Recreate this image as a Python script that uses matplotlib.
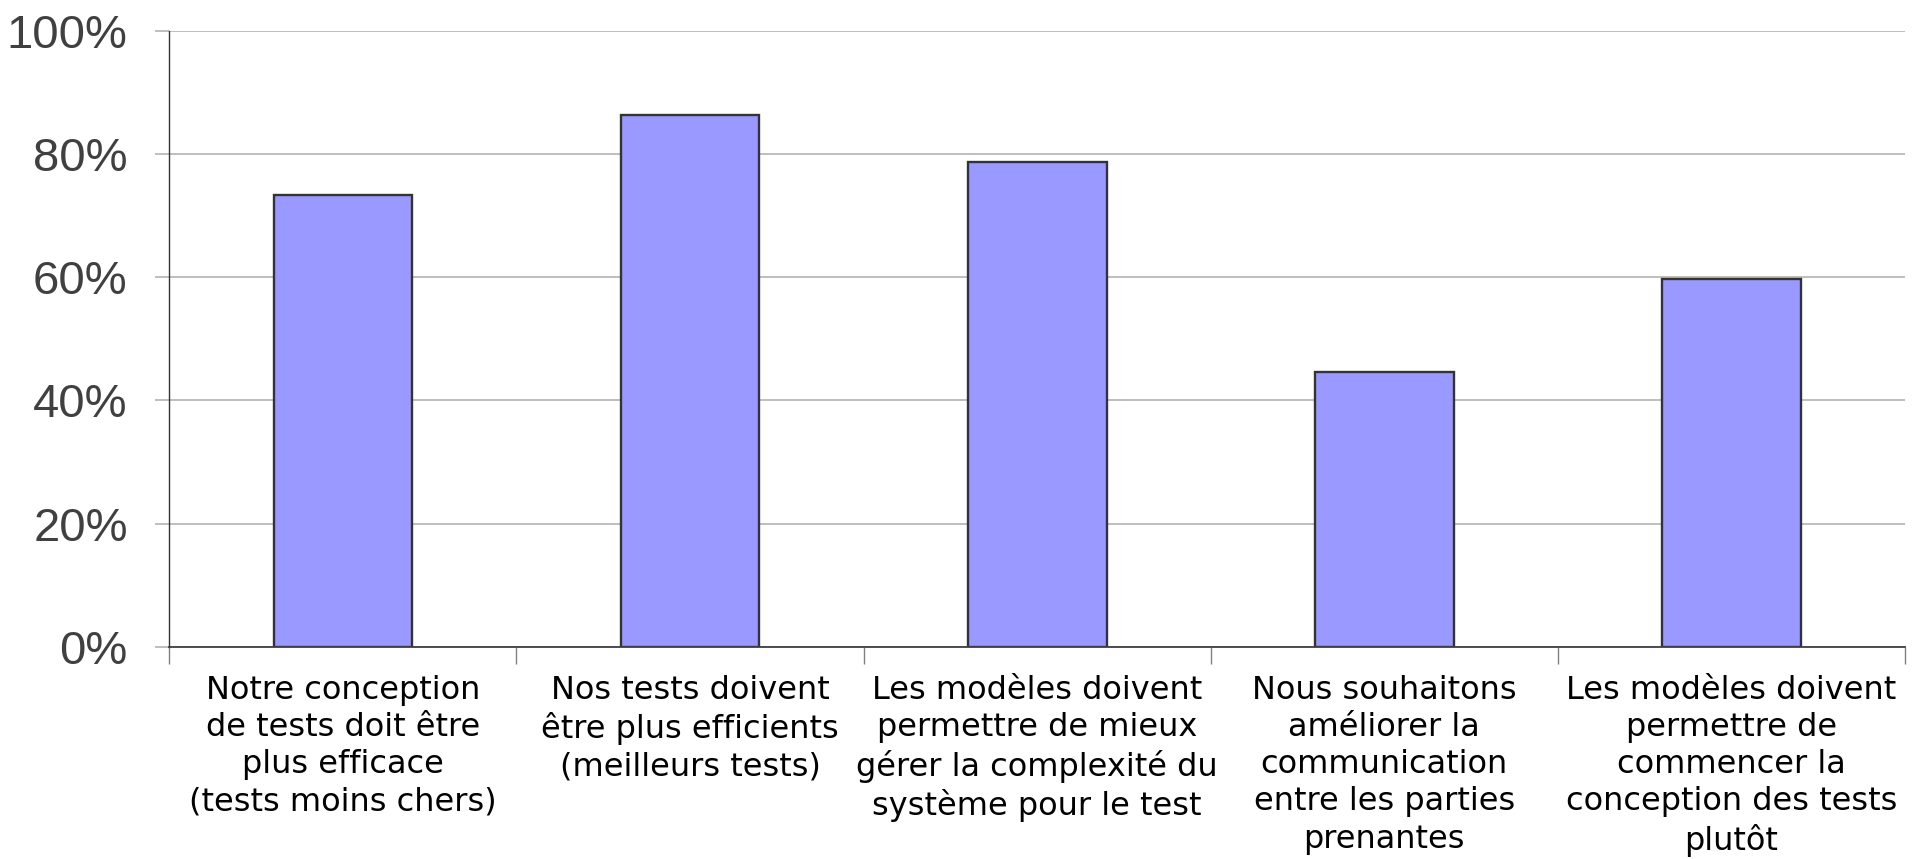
import numpy as np
import matplotlib

matplotlib.use("Agg")
import matplotlib.pyplot as plt
from matplotlib.ticker import FixedLocator, PercentFormatter

# ------------------------------------------------- data
categories = [
    "Notre conception\nde tests doit être\nplus efficace\n(tests moins chers)",
    "Nos tests doivent\nêtre plus efficients\n(meilleurs tests)",
    "Les modèles doivent\npermettre de mieux\ngérer la complexité du\nsystème pour le test",
    "Nous souhaitons\naméliorer la\ncommunication\nentre les parties\nprenantes",
    "Les modèles doivent\npermettre de\ncommencer la\nconception des tests\nplutôt",
]
values = [0.734, 0.863, 0.787, 0.447, 0.597]
y_ticks = [0, 0.2, 0.4, 0.6, 0.8, 1.0]

# ------------------------------------------------- figure
fig = plt.figure(figsize=(19.25, 8.59), dpi=100)
ax = fig.add_axes([0.088, 0.247, 0.9015, 0.717])

x = np.arange(len(categories))
ax.bar(x, values, width=0.40, color="#9999ff", edgecolor="#333333",
       linewidth=1.7, zorder=3)

ax.set_xlim(-0.5, len(categories) - 0.5)
ax.set_ylim(0, 1.0)

# y axis: gridlines + outward gray ticks, percent labels
ax.yaxis.set_major_locator(FixedLocator(y_ticks))
ax.yaxis.set_major_formatter(PercentFormatter(1.0, decimals=0))
ax.grid(axis="y", color="#b3b3b3", lw=1.2, zorder=0)
ax.tick_params(axis="y", length=10, width=1.2, color="#b3b3b3", pad=20,
               labelsize=34, labelcolor="#404040")
for lab in ax.get_yticklabels():
    lab.set_family("Liberation Sans")

# x axis: labels at centres, tick marks at category boundaries
ax.set_xticks(x)
ax.set_xticklabels(categories, fontsize=23, family="DejaVu Sans",
                   linespacing=1.26)
ax.tick_params(axis="x", which="major", length=0, pad=20)
ax.set_xticks(np.arange(-0.5, len(categories)), minor=True)
ax.tick_params(axis="x", which="minor", length=12, width=1.0,
               color="#808080")

for s in ("top", "right"):
    ax.spines[s].set_visible(False)
ax.spines["left"].set_color("#333333")
ax.spines["left"].set_linewidth(1.0)
ax.spines["bottom"].set_color("#404040")
ax.spines["bottom"].set_linewidth(1.3)
ax.spines["bottom"].set_zorder(4)

fig.savefig("out.png", dpi=100)
